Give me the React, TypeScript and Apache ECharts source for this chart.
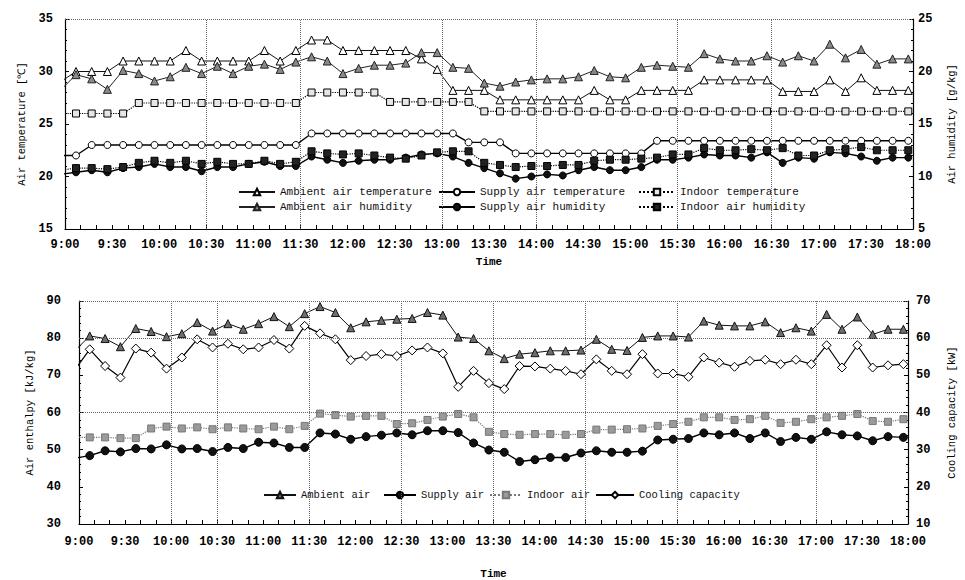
import React, { useEffect, useRef } from "react";
import * as echarts from "echarts";

// Sampling times (first point lies just before 9:00 and is clipped by the axis)
const TIMES = [
  "8:57",
  "9:07", "9:17", "9:27", "9:37", "9:47", "9:57",
  "10:07", "10:17", "10:27", "10:37", "10:47", "10:57",
  "11:07", "11:17", "11:27", "11:37", "11:47", "11:57",
  "12:07", "12:17", "12:27", "12:37", "12:47", "12:57",
  "13:07", "13:17", "13:27", "13:37", "13:47", "13:57",
  "14:07", "14:17", "14:27", "14:37", "14:47", "14:57",
  "15:07", "15:17", "15:27", "15:37", "15:47", "15:57",
  "16:07", "16:17", "16:27", "16:37", "16:47", "16:57",
  "17:07", "17:17", "17:27", "17:37", "17:47", "17:57",
];

// ---- Upper panel: temperatures [°C] ----
const AMBIENT_TEMP = [29.0, 30, 30, 30, 31, 31, 31, 31, 32, 31, 31, 31, 31, 32, 31, 32, 33, 33, 32, 32, 32, 32, 32, 31.2, 30.2, 28.2, 28.2, 28.2, 27.3, 27.3, 27.3, 27.3, 27.3, 27.3, 28.2, 27.3, 27.3, 28.2, 28.2, 28.2, 28.2, 29.2, 29.2, 29.2, 29.2, 29.2, 28.1, 28.1, 28.1, 29.2, 28.1, 29.4, 28.2, 28.2, 28.2];
const SUPPLY_TEMP = [22.0, 22.0, 23, 23, 23, 23, 23, 23, 23, 23, 23, 23, 23, 23, 23, 23, 24.1, 24.1, 24.1, 24.1, 24.1, 24.1, 24.1, 24.1, 24.1, 24.1, 23.25, 23.25, 23.25, 22.2, 22.2, 22.2, 22.2, 22.2, 22.2, 22.2, 22.2, 22.2, 23.4, 23.4, 23.4, 23.4, 23.4, 23.4, 23.4, 23.4, 23.4, 23.4, 23.4, 23.4, 23.4, 23.4, 23.4, 23.4, 23.4];
const INDOOR_TEMP = [26.0, 26.0, 26.0, 26.0, 26.0, 27, 27, 27, 27, 27, 27, 27, 27, 27, 27, 27, 28, 28, 28, 28, 28, 27.1, 27.1, 27.1, 27.1, 27.1, 27.1, 26.2, 26.2, 26.2, 26.2, 26.2, 26.2, 26.2, 26.2, 26.2, 26.2, 26.2, 26.2, 26.2, 26.2, 26.2, 26.2, 26.2, 26.2, 26.2, 26.2, 26.2, 26.2, 26.2, 26.2, 26.2, 26.2, 26.2, 26.2];
// ---- Upper panel: humidities [g/kg] ----
const AMBIENT_HUM = [18.2, 19.7, 19.3, 18.3, 20.1, 19.8, 19.1, 19.5, 20.4, 19.8, 20.5, 19.8, 20.5, 20.7, 20.2, 20.9, 21.4, 21.0, 19.8, 20.3, 20.6, 20.6, 20.8, 21.8, 21.8, 20.4, 20.3, 18.9, 18.6, 19.0, 19.2, 19.3, 19.3, 19.5, 20.1, 19.5, 19.4, 20.4, 20.6, 20.5, 20.4, 21.7, 21.2, 21.0, 21.0, 21.5, 20.9, 21.5, 21.0, 22.6, 21.3, 22.1, 20.7, 21.2, 21.2];
const SUPPLY_HUM = [10.2, 10.4, 10.6, 10.4, 10.8, 10.9, 11.2, 10.9, 10.9, 10.5, 10.9, 10.9, 11.2, 11.4, 11.0, 11.0, 11.9, 11.6, 11.3, 11.5, 11.6, 11.6, 11.8, 12.1, 12.2, 11.9, 11.3, 10.8, 10.3, 9.8, 10.0, 10.2, 10.1, 10.6, 10.9, 10.6, 10.6, 10.9, 11.6, 11.6, 11.8, 12.1, 12.0, 12.0, 11.8, 12.3, 11.3, 11.8, 11.7, 12.3, 12.2, 11.9, 11.5, 11.8, 11.8];
const INDOOR_HUM = [10.6, 10.8, 10.8, 10.7, 10.9, 11.3, 11.5, 11.3, 11.5, 11.2, 11.4, 11.2, 11.2, 11.5, 11.2, 11.4, 12.4, 12.2, 12.1, 12.2, 12.0, 11.8, 11.7, 12.0, 12.3, 12.4, 12.4, 11.3, 11.1, 10.9, 11.0, 11.0, 11.1, 11.1, 11.5, 11.6, 11.6, 11.7, 11.8, 12.1, 12.1, 12.7, 12.5, 12.5, 12.6, 12.5, 12.7, 12.0, 12.0, 12.5, 12.6, 12.8, 12.5, 12.5, 12.5];

// ---- Lower panel: enthalpy [kJ/kg] and cooling capacity [kW] ----
const AMBIENT_ENTH = [76.5, 80.6, 79.9, 77.7, 82.6, 81.8, 80.4, 81.2, 84.2, 81.9, 83.9, 82.4, 83.9, 85.8, 83.1, 86.6, 88.5, 86.9, 82.8, 84.4, 84.8, 85.1, 85.3, 86.9, 86.2, 80.3, 79.9, 76.6, 74.5, 75.7, 76.1, 76.6, 76.6, 76.8, 79.7, 77.0, 76.7, 80.2, 80.6, 80.6, 80.3, 84.6, 83.5, 83.3, 83.3, 84.4, 81.5, 82.8, 81.9, 86.4, 82.4, 85.7, 81.0, 82.4, 82.4];
const SUPPLY_ENTH = [47.7, 48.4, 49.7, 49.4, 50.3, 50.2, 51.3, 50.2, 50.3, 49.5, 50.6, 50.3, 52.0, 51.8, 50.6, 50.6, 54.5, 54.2, 52.8, 53.5, 53.9, 54.5, 54.0, 55.1, 55.1, 54.6, 51.8, 49.9, 49.3, 46.8, 47.3, 47.9, 47.9, 49.1, 49.7, 49.3, 49.3, 49.6, 52.6, 52.8, 53.0, 54.5, 54.0, 54.5, 53.0, 54.5, 52.2, 53.3, 52.8, 54.8, 54.0, 53.7, 52.4, 53.5, 53.3];
const INDOOR_ENTH = [53.3, 53.3, 53.3, 53.1, 53.1, 55.7, 56.2, 55.7, 56.0, 55.5, 56.0, 55.7, 55.5, 56.2, 55.5, 56.4, 59.7, 59.3, 58.9, 59.1, 59.1, 56.9, 57.1, 58.0, 58.9, 59.6, 58.7, 54.8, 54.2, 54.0, 54.2, 54.2, 54.0, 54.2, 55.4, 55.4, 55.5, 55.7, 56.4, 56.9, 57.5, 58.7, 58.7, 58.0, 58.2, 59.1, 57.2, 57.5, 58.2, 58.7, 59.1, 59.6, 57.7, 57.5, 58.2];
const COOLING_CAP = [51.3, 57.0, 52.5, 49.4, 57.2, 56.1, 51.8, 54.8, 59.7, 57.5, 58.5, 57.0, 57.5, 59.5, 57.2, 63.3, 61.3, 59.7, 54.1, 55.2, 55.7, 55.2, 56.7, 57.5, 55.9, 46.9, 51.2, 47.9, 46.3, 52.5, 52.4, 51.8, 51.2, 50.3, 54.3, 51.2, 50.3, 55.7, 50.5, 50.5, 49.6, 54.8, 53.4, 52.3, 53.9, 54.2, 53.0, 54.2, 53.0, 58.1, 52.1, 58.1, 52.1, 52.7, 53.0];

// Dotted reference lines drawn in the original figure
const TOP_VLINES = ["10:30", "11:30", "13:00", "14:00", "15:30", "16:30"];
const BOTTOM_VLINES = ["10:00", "10:30", "11:30", "12:30", "13:30", "14:30", "15:30", "17:00"];
const BOTTOM_HLINES = [80, 60];

const FONT = "'Liberation Mono', 'DejaVu Sans Mono', monospace";

const toMin = (s: string) => {
  const [h, m] = s.split(":").map(Number);
  return h * 60 + m;
};
const fmt = (v: number) => {
  const h = Math.floor(v / 60);
  const m = Math.round(v - h * 60);
  return `${h}:${String(m).padStart(2, "0")}`;
};
const pairs = (vals: number[]) => TIMES.map((t, i) => [toMin(t), vals[i]]);

const dotted = { color: "#666", type: "dotted" as const, width: 1 };

function mkSeries(
  name: string,
  vals: number[],
  xi: number,
  yi: number,
  symbol: string,
  size: number,
  fill: string,
  border: string,
  lineType: "solid" | "dotted",
  lineColor: string,
  lineWidth: number,
  extra: any = {}
) {
  return {
    type: "line",
    name,
    xAxisIndex: xi,
    yAxisIndex: yi,
    data: pairs(vals),
    symbol,
    symbolSize: size,
    showSymbol: true,
    showAllSymbol: true,
    clip: true,
    itemStyle: { color: fill, borderColor: border, borderWidth: 1, opacity: 1 },
    lineStyle: { color: lineColor, width: lineWidth, type: lineType },
    emphasis: { disabled: true },
    z: 3,
    ...extra,
  };
}

function axisBase(extra: any = {}) {
  return {
    axisLine: { show: true, onZero: false, lineStyle: { color: "#000", width: 1.2 } },
    axisTick: { show: true, inside: true, length: 4, lineStyle: { color: "#000" } },
    minorTick: { show: true, splitNumber: 5, length: 2, lineStyle: { color: "#000" } },
    splitLine: { show: false },
    axisLabel: { color: "#000", fontFamily: FONT, fontSize: 12, fontWeight: "bold" },
    nameTextStyle: { color: "#000", fontFamily: FONT, fontSize: 10.5 },
    ...extra,
  };
}

function xAxisCfg(gridIndex: number, labelMargin: number, nameGap: number) {
  const base = axisBase();
  return {
    ...base,
    type: "value",
    gridIndex,
    min: 540,
    max: 1080,
    interval: 30,
    minorTick: { ...base.minorTick, splitNumber: 3, length: 4 },
    axisLabel: { ...base.axisLabel, margin: labelMargin, formatter: (v: number) => fmt(v) },
    name: "Time",
    nameLocation: "middle",
    nameGap,
    nameTextStyle: { color: "#000", fontFamily: FONT, fontSize: 11, fontWeight: "bold" },
  };
}

function yAxisCfg(gridIndex: number, position: string, min: number, max: number, interval: number, name: string, nameGap: number, margin: number) {
  const base = axisBase();
  return {
    ...base,
    type: "value",
    gridIndex,
    position,
    min,
    max,
    interval,
    name,
    nameLocation: "middle",
    nameGap,
    axisLabel: { ...base.axisLabel, margin },
  };
}

const vMark = (times: string[], extraData: any[] = []) => ({
  silent: true,
  symbol: ["none", "none"],
  label: { show: false },
  lineStyle: dotted,
  animation: false,
  data: [...times.map((t) => ({ xAxis: toMin(t) })), ...extraData],
});

export default function App() {
  const ref = useRef<HTMLDivElement>(null);

  useEffect(() => {
    if (!ref.current) return;
    const chart = echarts.init(ref.current, undefined, { renderer: "svg" });

    const legendText = (size: number) => ({ fontFamily: FONT, fontSize: size, color: "#111", lineHeight: 12 });
    const topLegend = (left: number, data: string[]) => ({
      orient: "vertical",
      left,
      top: 181,
      itemWidth: 36,
      itemHeight: 8,
      itemGap: 3,
      selectedMode: false,
      data,
      textStyle: legendText(11),
    });
    const bottomLegend = (left: number, width: number, data: string[]) => ({
      orient: "horizontal",
      left,
      top: 484,
      itemWidth: width,
      itemHeight: 8,
      selectedMode: false,
      data,
      textStyle: legendText(10.5),
    });

    const option: any = {
      animation: false,
      backgroundColor: "#fff",
      textStyle: { fontFamily: FONT },
      grid: [
        { left: 65, top: 19, width: 852, height: 210 },
        { left: 79, top: 301, width: 833, height: 224 },
      ],
      legend: [
        topLegend(233, ["Ambient air temperature", "Ambient air humidity"]),
        topLegend(433, ["Supply air temperature", "Supply air humidity"]),
        topLegend(633, ["Indoor temperature", "Indoor air humidity"]),
        bottomLegend(258, 32, ["Ambient air"]),
        bottomLegend(378, 32, ["Supply air"]),
        bottomLegend(484, 32, ["Indoor air"]),
        bottomLegend(590, 38, ["Cooling capacity"]),
      ],
      xAxis: [xAxisCfg(0, 10, 27), xAxisCfg(1, 12, 44)],
      yAxis: [
        yAxisCfg(0, "left", 15, 35, 5, "Air temperature [℃]", 35, 12),
        yAxisCfg(0, "right", 5, 25, 5, "Air humidity [g/kg]", 33, 5),
        yAxisCfg(1, "left", 30, 90, 10, "Air enthalpy [kJ/kg]", 36, 18),
        yAxisCfg(1, "right", 10, 70, 10, "Cooling capacity [kW]", 38, 8),
      ],
      series: [
        mkSeries("Ambient air temperature", AMBIENT_TEMP, 0, 0, "triangle", 8, "#fff", "#000", "solid", "#111", 1, {
          markLine: vMark(TOP_VLINES, [{ yAxis: 35 }]),
        }),
        mkSeries("Ambient air humidity", AMBIENT_HUM, 0, 1, "triangle", 8, "#8a8a8a", "#222", "solid", "#222", 1),
        mkSeries("Supply air temperature", SUPPLY_TEMP, 0, 0, "circle", 7, "#fff", "#000", "solid", "#000", 1.4),
        mkSeries("Supply air humidity", SUPPLY_HUM, 0, 1, "circle", 7, "#111", "#000", "solid", "#000", 1.4),
        mkSeries("Indoor temperature", INDOOR_TEMP, 0, 0, "rect", 7, "#e6e6e6", "#000", "dotted", "#000", 1.2),
        mkSeries("Indoor air humidity", INDOOR_HUM, 0, 1, "rect", 7, "#222", "#000", "dotted", "#000", 1.2),

        mkSeries("Ambient air", AMBIENT_ENTH, 1, 2, "triangle", 8, "#6e6e6e", "#111", "solid", "#111", 1, {
          markLine: vMark(BOTTOM_VLINES, [{ yAxis: 90 }, ...BOTTOM_HLINES.map((v) => ({ yAxis: v }))]),
        }),
        mkSeries("Supply air", SUPPLY_ENTH, 1, 2, "circle", 8, "#111", "#000", "solid", "#000", 1.4),
        mkSeries("Indoor air", INDOOR_ENTH, 1, 2, "rect", 7, "#9a9a9a", "#777", "dotted", "#777", 1.2),
        mkSeries("Cooling capacity", COOLING_CAP, 1, 3, "diamond", 9, "#fff", "#000", "solid", "#000", 1.2),
      ],
    };

    chart.setOption(option);
    return () => chart.dispose();
  }, []);

  return (
    <div
      ref={ref}
      style={{ position: "fixed", left: 0, top: 0, width: 965, height: 580, background: "#fff" }}
    />
  );
}
